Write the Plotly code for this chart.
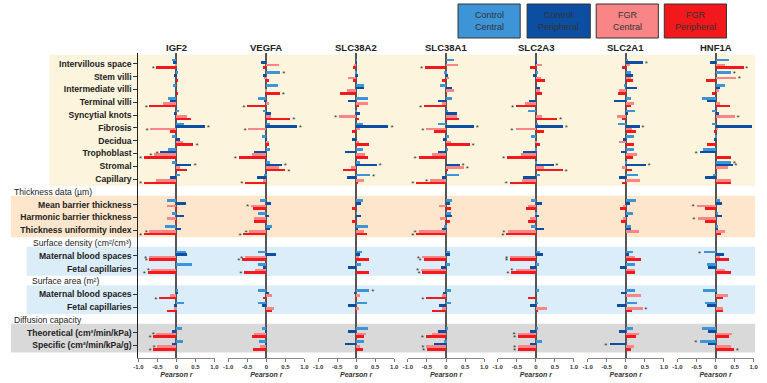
import plotly.graph_objects as go

# ---------------- data ----------------
ROWS = ["Intervillous space", "Stem villi", "Intermediate villi", "Terminal villi",
        "Syncytial knots", "Fibrosis", "Decidua", "Trophoblast", "Stromal", "Capillary",
        "Mean barrier thickness", "Harmonic barrier thickness", "Thickness uniformity index",
        "Maternal blood spaces", "Fetal capillaries",
        "Maternal blood spaces", "Fetal capillaries",
        "Theoretical (cm²/min/kPa)", "Specific (cm²/min/kPa/g)"]
SECTIONS = ["Volumes (cm³)", "Thickness data (µm)", "Surface density (cm²/cm³)",
            "Surface area (m²)", "Diffusion capacity"]
SERIES = ["Control<br>Central", "Control<br>Peripheral", "FGR<br>Central", "FGR<br>Peripheral"]
GENE_NAMES = ["IGF2", "VEGFA", "SLC38A2", "SLC38A1", "SLC2A3", "SLC2A1", "HNF1A"]
X_TICKS = [-1.0, -0.5, 0, 0.5, 1.0]
X_TICK_LABELS = ["-1.0", "-0.5", "0", "0.5", "1.0"]

# Pearson r per gene: Control Central, Control Peripheral, FGR Central, FGR Peripheral
IGF2_CC = [-0.10, 0.06, -0.08, -0.22, 0.08, 0.20, -0.10, -0.22, -0.10, 0.10, -0.25, -0.10, -0.28, 0.26, 0.42, 0.03, 0.20, 0.15, 0.18]
IGF2_CP = [-0.08, -0.05, 0.00, -0.15, -0.06, 0.75, 0.10, -0.42, 0.40, -0.15, 0.25, 0.20, 0.12, 0.29, 0.00, 0.03, -0.05, -0.12, -0.12]
IGF2_FC = [-0.02, 0.00, 0.00, -0.35, 0.28, -0.68, 0.18, -0.58, 0.10, -0.52, -0.25, -0.25, -0.70, -0.72, -0.65, -0.15, -0.05, -0.52, -0.50]
IGF2_FP = [-0.52, 0.04, 0.06, -0.70, 0.39, -0.15, 0.45, -0.85, 0.28, -0.85, -0.02, -0.02, -0.85, -0.70, -0.75, -0.45, -0.25, -0.60, -0.60]
IGF2_SIG = [(0, 3), (3, 3), (5, 1), (5, 2), (6, 3), (7, 1), (7, 2), (7, 3), (8, 1), (9, 3), (12, 2), (12, 3),
            (13, 2), (13, 3), (14, 2), (14, 3), (15, 3), (17, 2), (17, 3), (18, 2), (18, 3)]

VEGFA_CC = [0.00, 0.37, 0.30, -0.20, -0.07, 0.10, -0.12, 0.10, 0.10, -0.05, -0.15, -0.20, 0.16, -0.22, -0.20, -0.22, -0.22, -0.12, -0.18]
VEGFA_CP = [-0.14, -0.08, 0.00, -0.06, 0.13, 0.80, -0.03, -0.31, 0.41, -0.24, 0.12, 0.07, 0.10, 0.27, -0.08, 0.07, -0.10, -0.02, -0.03]
VEGFA_FC = [0.35, -0.05, -0.02, 0.07, 0.14, -0.47, 0.07, -0.36, 0.35, -0.08, -0.40, -0.33, -0.44, -0.56, -0.30, 0.15, 0.22, -0.32, -0.15]
VEGFA_FP = [-0.08, 0.08, 0.36, -0.50, 0.63, 0.00, 0.08, -0.72, 0.50, -0.55, -0.35, -0.33, -0.60, -0.63, -0.58, -0.08, 0.16, -0.37, -0.35]
VEGFA_SIG = [(1, 0), (2, 3), (3, 3), (4, 3), (5, 1), (5, 2), (7, 3), (8, 1), (8, 3), (9, 3), (10, 2),
             (12, 2), (12, 3), (13, 2), (13, 3), (14, 3)]

SLC38A2_CC = [0.02, -0.02, 0.20, 0.30, -0.04, 0.17, 0.00, 0.17, 0.09, 0.37, 0.17, 0.02, 0.30, 0.16, 0.13, 0.35, 0.28, 0.31, 0.22]
SLC38A2_CP = [0.02, 0.05, 0.22, -0.20, 0.11, 0.85, -0.10, -0.29, 0.54, -0.24, 0.13, 0.13, 0.05, 0.10, -0.22, -0.06, -0.22, -0.20, -0.29]
SLC38A2_FC = [-0.06, -0.20, -0.25, 0.31, -0.45, 0.09, 0.08, 0.24, -0.13, 0.20, 0.00, 0.00, 0.22, 0.08, 0.00, 0.09, 0.08, 0.26, 0.11]
SLC38A2_FP = [-0.08, -0.08, -0.42, 0.07, 0.08, -0.10, 0.33, 0.31, -0.35, 0.05, -0.10, -0.10, 0.28, 0.35, 0.35, -0.04, -0.02, 0.22, 0.17]
SLC38A2_SIG = [(4, 2), (5, 1), (8, 1), (9, 0), (15, 0)]

SLC38A1_CC = [0.22, -0.05, -0.17, 0.15, 0.03, -0.22, 0.07, 0.03, 0.00, 0.34, 0.15, 0.14, -0.05, 0.09, 0.10, 0.12, 0.13, 0.06, -0.05]
SLC38A1_CP = [0.00, 0.06, 0.15, -0.20, 0.28, 0.73, -0.07, -0.20, 0.36, -0.12, 0.09, 0.16, -0.11, 0.09, -0.13, -0.09, -0.18, -0.20, -0.32]
SLC38A1_FC = [0.30, 0.08, 0.20, -0.10, 0.29, -0.52, 0.12, -0.37, 0.47, -0.42, -0.18, -0.15, -0.72, -0.64, -0.66, -0.11, -0.10, -0.37, -0.52]
SLC38A1_FP = [-0.55, -0.12, 0.02, -0.58, 0.33, -0.32, 0.62, -0.72, 0.06, -0.78, 0.13, 0.10, -0.78, -0.59, -0.62, -0.52, -0.38, -0.53, -0.50]
SLC38A1_SIG = [(0, 3), (3, 3), (5, 1), (5, 2), (6, 3), (7, 3), (8, 1), (8, 2), (9, 2), (9, 3), (12, 2), (12, 3),
               (13, 2), (13, 3), (14, 2), (14, 3), (15, 3), (17, 3), (18, 2), (18, 3)]

SLC2A3_CC = [0.00, 0.04, 0.00, 0.00, -0.20, 0.06, -0.14, -0.03, -0.04, 0.11, -0.13, -0.04, -0.14, 0.09, 0.07, 0.07, 0.06, 0.06, 0.15]
SLC2A3_CP = [-0.02, -0.07, 0.09, -0.18, 0.00, 0.71, 0.00, -0.34, 0.46, -0.34, 0.16, 0.08, 0.20, 0.17, -0.17, 0.00, -0.17, -0.16, -0.15]
SLC2A3_FC = [0.16, 0.14, 0.10, -0.28, 0.16, -0.54, -0.02, -0.39, 0.20, -0.37, -0.22, -0.16, -0.75, -0.68, -0.54, 0.00, 0.28, -0.48, -0.47]
SLC2A3_FP = [-0.15, 0.23, 0.16, -0.52, 0.56, 0.22, 0.09, -0.76, 0.70, -0.69, -0.26, -0.21, -0.78, -0.68, -0.65, -0.22, 0.03, -0.47, -0.47]
SLC2A3_SIG = [(3, 3), (4, 3), (5, 1), (5, 2), (7, 3), (8, 1), (8, 3), (9, 3), (12, 2), (12, 3), (13, 2), (13, 3),
              (14, 2), (14, 3), (17, 2), (17, 3), (18, 2), (18, 3)]

SLC2A1_CC = [0.04, 0.13, -0.06, 0.13, 0.23, -0.20, 0.20, 0.21, -0.03, 0.31, 0.26, 0.17, 0.12, 0.18, 0.23, 0.23, 0.28, 0.19, 0.00]
SLC2A1_CP = [0.45, 0.18, 0.28, -0.32, 0.05, 0.36, -0.08, -0.13, 0.52, -0.19, 0.10, 0.04, 0.14, 0.07, -0.16, -0.13, -0.23, -0.19, -0.43]
SLC2A1_FC = [0.09, 0.14, -0.19, 0.22, -0.24, 0.15, -0.18, 0.28, -0.11, 0.36, -0.07, -0.09, 0.34, 0.23, 0.24, 0.38, 0.44, 0.33, 0.22]
SLC2A1_FP = [-0.11, 0.19, -0.22, 0.13, -0.11, 0.26, 0.22, 0.19, 0.16, -0.10, -0.16, -0.13, 0.00, 0.38, 0.23, 0.00, 0.15, 0.25, 0.14]
SLC2A1_SIG = [(0, 1), (5, 1), (8, 1), (16, 2), (18, 1)]

HNF1A_CC = [0.34, 0.40, 0.23, -0.37, -0.12, -0.12, -0.03, -0.34, 0.40, -0.09, 0.09, 0.04, 0.04, -0.33, -0.24, -0.34, -0.29, -0.38, -0.43]
HNF1A_CP = [-0.16, 0.00, 0.10, -0.24, 0.08, 0.94, -0.06, -0.42, 0.44, -0.30, 0.16, 0.15, 0.04, 0.22, -0.20, -0.01, -0.24, -0.21, -0.22]
HNF1A_FC = [0.23, 0.53, 0.08, 0.10, 0.50, 0.04, 0.00, 0.00, 0.30, 0.38, -0.50, -0.48, 0.24, 0.11, 0.24, 0.31, 0.19, 0.41, 0.38]
HNF1A_FP = [0.72, -0.26, -0.12, 0.37, -0.03, -0.06, -0.24, 0.38, -0.03, 0.38, -0.29, -0.28, 0.12, 0.34, 0.38, 0.17, 0.19, 0.34, 0.48]
HNF1A_SIG = [(0, 3), (1, 0), (1, 2), (4, 2), (5, 1), (7, 1), (8, 0), (8, 1), (10, 2), (11, 2), (13, 0),
             (18, 0), (18, 3)]

GENES = {
    "IGF2": ([IGF2_CC, IGF2_CP, IGF2_FC, IGF2_FP], IGF2_SIG),
    "VEGFA": ([VEGFA_CC, VEGFA_CP, VEGFA_FC, VEGFA_FP], VEGFA_SIG),
    "SLC38A2": ([SLC38A2_CC, SLC38A2_CP, SLC38A2_FC, SLC38A2_FP], SLC38A2_SIG),
    "SLC38A1": ([SLC38A1_CC, SLC38A1_CP, SLC38A1_FC, SLC38A1_FP], SLC38A1_SIG),
    "SLC2A3": ([SLC2A3_CC, SLC2A3_CP, SLC2A3_FC, SLC2A3_FP], SLC2A3_SIG),
    "SLC2A1": ([SLC2A1_CC, SLC2A1_CP, SLC2A1_FC, SLC2A1_FP], SLC2A1_SIG),
    "HNF1A": ([HNF1A_CC, HNF1A_CP, HNF1A_FC, HNF1A_FP], HNF1A_SIG),
}

# ---------------- layout constants ----------------
W, H = 767, 383
COLORS = ["#3d94d6", "#0b4ea2", "#f98587", "#f2181c"]
BAR_OFFSETS = [-0.3, -0.1, 0.1, 0.3]
GROUP_SIZES = [10, 3, 2, 2, 2]
FONT = "Liberation Sans, Arial, sans-serif"

# slot positions: one slot per header + rows
row_slots, section_slots = [], []
s = 0
for g in GROUP_SIZES:
    section_slots.append(s)
    s += 1
    for _ in range(g):
        row_slots.append(s)
        s += 1

def px_x(p):
    return p / W

def px_y(p):
    return 1 - p / H

Y_TOP_PX, Y_BOT_PX = 53, 358
SLOT0_PX, SLOT_PX = 51, 12.8
y_range = [(Y_BOT_PX - SLOT0_PX) / SLOT_PX, (Y_TOP_PX - SLOT0_PX) / SLOT_PX]

fig = go.Figure()
layout = dict(
    width=W, height=H, margin=dict(l=0, r=0, t=0, b=0),
    paper_bgcolor="white", plot_bgcolor="rgba(0,0,0,0)",
    showlegend=False, bargap=0, font=dict(family=FONT, color="#222"),
)

shapes, annotations = [], []

for i, gene in enumerate(GENE_NAMES):
    series, sig = GENES[gene]
    xa = "x" if i == 0 else f"x{i+1}"
    zero_px = 173.7 + 91.05 * i
    half = 38.6
    axis_key = "xaxis" if i == 0 else f"xaxis{i+1}"
    layout[axis_key] = dict(
        domain=[px_x(zero_px - half), px_x(zero_px + half)],
        range=[-1, 1], anchor="y",
        tickvals=X_TICKS, ticktext=[f"<b>{t}</b>" for t in X_TICK_LABELS],
        tickfont=dict(size=6, color="#333", family=FONT),
        ticks="outside", ticklen=3, tickcolor="#777", tickwidth=1,
        showline=True, linecolor="#888", linewidth=1,
        showgrid=False, zeroline=True, zerolinecolor="#555", zerolinewidth=1.6,
        title=dict(text="<b><i>Pearson r</i></b>", font=dict(size=7, color="#333", family=FONT), standoff=2),
        fixedrange=True,
    )
    for k, vals in enumerate(series):
        fig.add_trace(go.Bar(
            x=vals, y=[row_slots[r] + BAR_OFFSETS[k] for r in range(len(vals))],
            orientation="h", width=0.2, marker=dict(color=COLORS[k], line=dict(width=0)),
            xaxis=xa, yaxis="y", hoverinfo="skip",
        ))
    sx, sy = [], []
    for (r, k) in sig:
        v = series[k][r]
        sgn = 1 if v >= 0 else -1
        sx.append(v + sgn * 0.09)
        sy.append(row_slots[r] + BAR_OFFSETS[k] + 0.12)
    fig.add_trace(go.Scatter(
        x=sx, y=sy, mode="text", text=["*"] * len(sx),
        textfont=dict(size=8, color="#333", family=FONT), textposition="middle center",
        xaxis=xa, yaxis="y", cliponaxis=False, hoverinfo="skip",
    ))
    annotations.append(dict(
        text=f"<b>{gene}</b>", xref=xa, x=0, yref="paper", y=px_y(48),
        showarrow=False, font=dict(size=9.5, color="#222", family=FONT),
        xanchor="center", yanchor="middle",
    ))

layout["yaxis"] = dict(
    domain=[px_y(Y_BOT_PX), px_y(Y_TOP_PX)], range=y_range, anchor="x",
    tickvals=row_slots, ticktext=[f"<b>{r}</b>" for r in ROWS],
    tickfont=dict(size=8.6, color="#222", family=FONT),
    ticks="outside", ticklen=4, tickcolor="#333",
    showline=True, linecolor="#222", linewidth=1,
    showgrid=False, zeroline=False, fixedrange=True,
)

# background bands per section
BAND_COLORS = ["#fcf4dc", "#fde6cb", "#dbedf8", "#dbedf8", "#d9d9d9"]
BAND_LEFT_PX = [45, 6, 22, 22, 6]
HEADER_LEFT_PX = [43, 7, 26, 25, 7]
ri = 0
for si, g in enumerate(GROUP_SIZES):
    first = row_slots[ri]
    last = row_slots[ri + g - 1]
    ri += g
    shapes.append(dict(
        type="rect", xref="paper", yref="y", layer="below",
        x0=px_x(BAND_LEFT_PX[si]), x1=px_x(760), y0=first - 0.7, y1=last + 0.55,
        fillcolor=BAND_COLORS[si], line=dict(width=0),
    ))
    annotations.append(dict(
        text=SECTIONS[si], xref="paper", x=px_x(HEADER_LEFT_PX[si]), yref="y", y=section_slots[si],
        showarrow=False, xanchor="left", yanchor="middle",
        font=dict(size=8.6, color="#222", family=FONT),
    ))

# legend boxes
LEG_X = [(459, 522), (529, 593), (599, 662), (668, 731)]
for k, name in enumerate(SERIES):
    x0, x1 = LEG_X[k]
    shapes.append(dict(
        type="rect", xref="paper", yref="paper",
        x0=px_x(x0), x1=px_x(x1), y0=px_y(38), y1=px_y(4),
        fillcolor=COLORS[k], line=dict(color="#333", width=1),
    ))
    annotations.append(dict(
        text=name, xref="paper", yref="paper", x=px_x((x0 + x1) / 2), y=px_y(21),
        showarrow=False, xanchor="center", yanchor="middle",
        font=dict(size=9, color="#333", family=FONT),
    ))

layout["shapes"] = shapes
layout["annotations"] = annotations
fig.update_layout(**layout)
fig.write_html(
    "out.html",
    config={"displayModeBar": False},
    post_script="document.body.style.margin='0';document.body.style.overflow='hidden';",
)
